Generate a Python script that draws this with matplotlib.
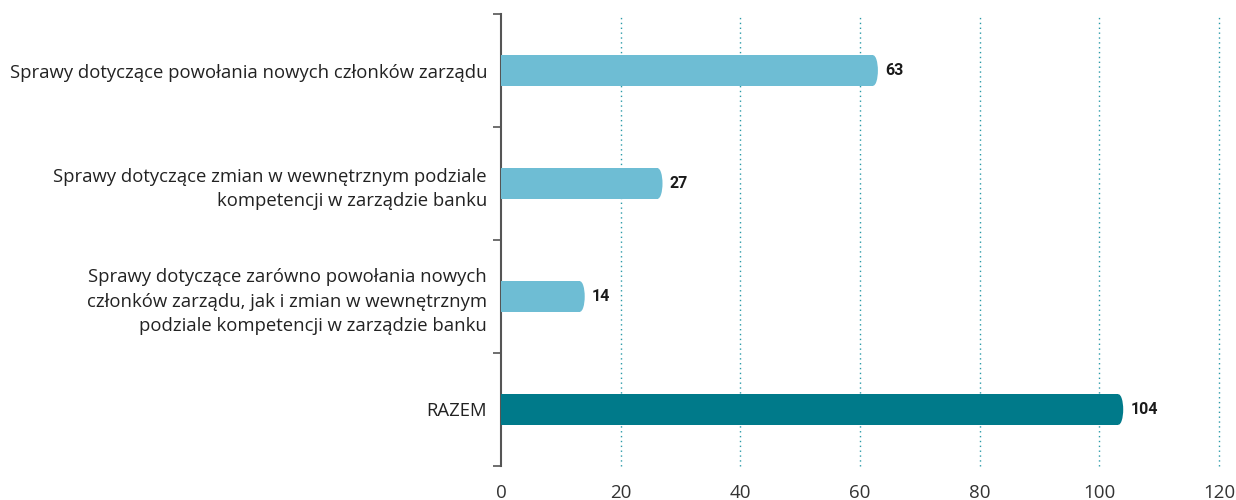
import matplotlib
matplotlib.use("Agg")
import matplotlib.pyplot as plt
import matplotlib.patches as patches
import numpy as np

plt.rcParams['font.family'] = ['Open Sans', 'DejaVu Sans']

# ---- dane ----
categories = [
    "Sprawy dotyczące powołania nowych członków zarządu",
    "Sprawy dotyczące zmian w wewnętrznym podziale\nkompetencji w zarządzie banku",
    "Sprawy dotyczące zarówno powołania nowych\nczłonków zarządu, jak i zmian w wewnętrznym\npodziale kompetencji w zarządzie banku",
    "RAZEM",
]
values = [63, 27, 14, 104]
bar_colors = ["#6ebdd4", "#6ebdd4", "#6ebdd4", "#007a8a"]
x_ticks = [0, 20, 40, 60, 80, 100, 120]

BAR_H = 0.27
CAP = 0.8  # zaokrąglenie końca słupka (jednostki danych)

fig = plt.figure(figsize=(12.36, 5.0), dpi=100, facecolor='white')
ax = fig.add_axes([0.4053, 0.068, 0.9862 - 0.4053, 0.972 - 0.068])

ypos = np.arange(len(categories))
for y, v, c in zip(ypos, values, bar_colors):
    ax.barh(y, v - CAP, height=BAR_H, color=c, zorder=3)
    ax.add_patch(patches.Ellipse((v - CAP, y), 2 * CAP, BAR_H, facecolor=c,
                                 edgecolor='none', zorder=3))
    ax.text(v + 1.2, y, str(v), va='center', ha='left', fontsize=11.5,
            fontweight='bold', color='#1a1a1a', zorder=4,
            family=['Roboto', 'DejaVu Sans'])

ax.set_xlim(0, 120)
ax.set_ylim(len(categories) - 0.5, -0.5)

ax.set_xticks(x_ticks)
ax.tick_params(axis='x', length=0, pad=13, labelsize=13.5, labelcolor='#333333')
ax.set_yticks(ypos)
ax.set_yticklabels(categories, fontsize=13.3, color='#222222', linespacing=1.45)
ax.tick_params(axis='y', which='major', length=0, pad=10)
ax.set_yticks(np.arange(-0.5, len(categories), 1.0), minor=True)
ax.tick_params(axis='y', which='minor', length=6, width=1.2, color='#555555')

for x in x_ticks[1:]:
    ax.axvline(x, color='#2a9aa8', linestyle=(0, (1, 2.5)), linewidth=1,
               zorder=1, clip_on=False)

for s in ['top', 'right', 'bottom']:
    ax.spines[s].set_visible(False)
ax.spines['left'].set_color('#555555')
ax.spines['left'].set_linewidth(1.5)

fig.savefig("out.png", dpi=100, facecolor='white')
